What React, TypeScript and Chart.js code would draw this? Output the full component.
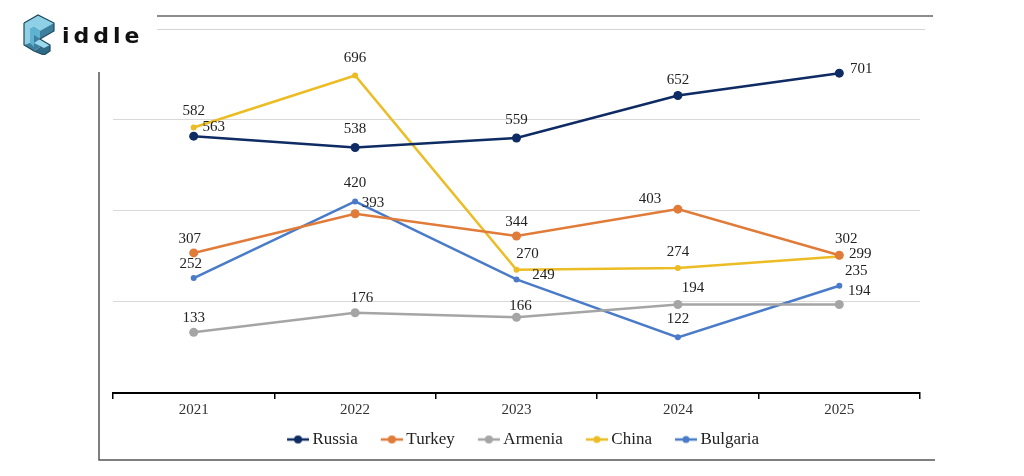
import React, { useEffect, useRef } from 'react';
import { Chart, registerables } from 'chart.js';

Chart.register(...registerables);

// data
const years = ['2021', '2022', '2023', '2024', '2025'];
const seriesNames = ['Russia', 'Turkey', 'Armenia', 'China', 'Bulgaria'];
const russia = [563, 538, 559, 652, 701];
const turkey = [307, 393, 344, 403, 302];
const armenia = [133, 176, 166, 194, 194];
const china = [582, 696, 270, 274, 299];
const bulgaria = [252, 420, 249, 122, 235];
const yMin = 0;
const yMax = 800;
const yStep = 200;

const colors = ['#0e2b63', '#e07b39', '#a5a5a5', '#ecbc24', '#4a7bc9'];
const pointSizes = [4.5, 4.5, 4.5, 3, 3];

// label offsets (dx, dy) from each point, per series
const labelOffsets = [
  [[20, -9], [0, -18], [0, -18], [0, -15], [22, -4]],
  [[-4, -14], [18, -11], [0, -14], [-28, -10], [7, -16]],
  [[0, -14], [7, -15], [4, -11], [15, -16], [20, -13]],
  [[0, -16], [0, -17], [11, -16], [0, -16], [21, -3]],
  [[-3, -14], [0, -18], [27, -4], [0, -18], [17, -15]],
];

const serif = '"Liberation Serif", "Times New Roman", serif';

// legend marker: short line with a dot, drawn on the right part of a wider image
function legendMarker(color: string, r: number) {
  const c = document.createElement('canvas');
  c.width = 40;
  c.height = 12;
  const g = c.getContext('2d')!;
  g.strokeStyle = color;
  g.lineWidth = 2.5;
  g.beginPath();
  g.moveTo(18, 6);
  g.lineTo(40, 6);
  g.stroke();
  g.fillStyle = color;
  g.beginPath();
  g.arc(29, 6, r, 0, Math.PI * 2);
  g.fill();
  return c;
}

const valueLabels = {
  id: 'valueLabels',
  afterDatasetsDraw(chart: any) {
    const ctx = chart.ctx;
    ctx.save();
    ctx.font = '15px ' + serif;
    ctx.fillStyle = '#222';
    ctx.textAlign = 'center';
    ctx.textBaseline = 'middle';
    chart.data.datasets.forEach((ds: any, i: number) => {
      const meta = chart.getDatasetMeta(i);
      meta.data.forEach((pt: any, j: number) => {
        const [dx, dy] = labelOffsets[i][j];
        ctx.fillText(String(ds.data[j]), pt.x + dx, pt.y + dy);
      });
    });
    ctx.restore();
  },
};

// frame lines around the picture
const frame = {
  id: 'frame',
  beforeDraw(chart: any) {
    const ctx = chart.ctx;
    ctx.save();
    ctx.strokeStyle = '#666';
    ctx.lineWidth = 1.5;
    ctx.beginPath();
    ctx.moveTo(157, 16);
    ctx.lineTo(933, 16);
    ctx.stroke();
    ctx.strokeStyle = '#d4d4d4';
    ctx.lineWidth = 1;
    ctx.beginPath();
    ctx.moveTo(157, 29.5);
    ctx.lineTo(925, 29.5);
    ctx.stroke();
    ctx.strokeStyle = '#555';
    ctx.lineWidth = 1.5;
    ctx.beginPath();
    ctx.moveTo(99, 72);
    ctx.lineTo(99, 460);
    ctx.lineTo(935, 460);
    ctx.stroke();
    ctx.restore();
  },
};

const Logo: React.FC = () => (
  <div style={{ position: 'absolute', left: 20, top: 13, display: 'flex', alignItems: 'center' }}>
    <svg width="40" height="42" viewBox="0 0 40 42">
      <polygon points="4,10 18,2 34,10 34,18 20,26 20,34 14,38 4,32" fill="#3d7f9c" />
      <polygon points="4,10 18,2 34,10 20,18 14,14 10,16 10,30 4,32" fill="#8fd0e6" />
      <polygon points="10,16 14,14 20,18 20,26 14,22 14,34 10,30" fill="#5fb2d0" />
      <polygon points="20,26 30,32 30,38 24,42 14,38 20,34" fill="#2f6a86" />
      <polygon points="20,26 30,32 24,35 14,30" fill="#9bd8ec" />
      <polyline points="4,10 18,2 34,10 34,18 20,26 30,32 30,38 24,42 14,38 4,32 4,10" fill="none" stroke="#1f4a5e" strokeWidth="1.2" />
    </svg>
    <span
      style={{
        fontFamily: '"DejaVu Sans", Arial, sans-serif',
        fontWeight: 'bold',
        fontSize: 22,
        letterSpacing: 4,
        color: '#111',
        marginLeft: 2,
        marginTop: 2,
      }}
    >
      iddle
    </span>
  </div>
);

const App: React.FC = () => {
  const canvasRef = useRef<HTMLCanvasElement>(null);

  useEffect(() => {
    const series = [russia, turkey, armenia, china, bulgaria];
    const markers = colors.map((c, i) => legendMarker(c, i < 3 ? 4 : 3.5));
    const chart = new Chart(canvasRef.current!, {
      type: 'line',
      data: {
        labels: years,
        datasets: series.map((d, i) => ({
          label: seriesNames[i],
          data: d,
          borderColor: colors[i],
          backgroundColor: colors[i],
          borderWidth: 2.5,
          pointRadius: pointSizes[i],
          pointBackgroundColor: colors[i],
          pointBorderWidth: 0,
          tension: 0,
        })),
      },
      options: {
        animation: false,
        responsive: false,
        layout: { padding: { left: 113, right: 104, top: 28, bottom: 18 } },
        scales: {
          x: {
            offset: true,
            grid: {
              offset: true,
              drawOnChartArea: false,
              drawTicks: true,
              tickLength: 6,
              color: '#000',
              lineWidth: 1.5,
            },
            border: { display: true, color: '#000', width: 2 },
            ticks: { color: '#333', font: { family: serif, size: 15 }, padding: 2 },
          },
          y: {
            min: yMin,
            max: yMax,
            ticks: { display: false, stepSize: yStep },
            border: { display: false },
            grid: {
              drawTicks: false,
              color: (c: any) => (c.tick && c.tick.value > 0 && c.tick.value < yMax ? '#d9d9d9' : 'rgba(0,0,0,0)'),
              lineWidth: 1,
            },
          },
        },
        plugins: {
          legend: {
            position: 'bottom',
            labels: {
              usePointStyle: true,
              pointStyleWidth: 30,
              padding: 10,
              color: '#222',
              font: { family: serif, size: 17 },
              generateLabels: (ch: any) => {
                const items = Chart.defaults.plugins.legend.labels.generateLabels(ch);
                return items.map((it: any, i: number) => ({ ...it, pointStyle: markers[i] }));
              },
            },
          },
          tooltip: { enabled: false },
        },
      },
      plugins: [valueLabels, frame],
    });
    return () => {
      chart.destroy();
    };
  }, []);

  return (
    <div style={{ position: 'fixed', left: 0, top: 0, width: 1024, height: 476, background: '#fff' }}>
      <canvas ref={canvasRef} width={1024} height={476} style={{ width: 1024, height: 476 }} />
      <Logo />
    </div>
  );
};

export default App;
